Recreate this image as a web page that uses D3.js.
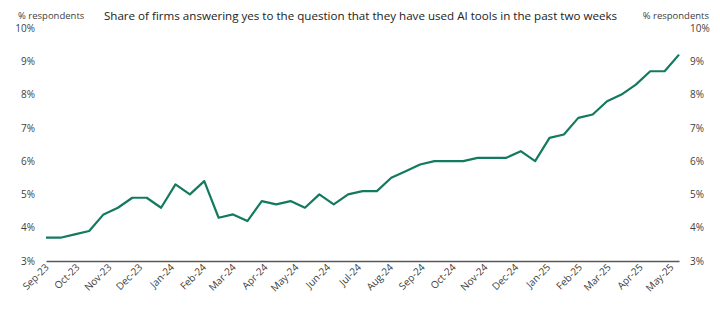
<!DOCTYPE html>
<html><head><meta charset="utf-8">
<script src="https://cdn.jsdelivr.net/npm/d3@7"></script>
<style>
html,body{margin:0;padding:0;background:#fff;}
text{font-family:"Open Sans","Noto Sans",sans-serif;}
</style></head>
<body><svg id="c" width="720" height="330"></svg>
<script>
const startDate = "2023-09-01";
const stepDays = 14;
const values = [3.7,3.7,3.8,3.9,4.4,4.6,4.9,4.9,4.6,5.3,5.0,5.4,4.3,4.4,4.2,4.8,4.7,4.8,4.6,5.0,4.7,5.0,5.1,5.1,5.5,5.7,5.9,6.0,6.0,6.0,6.1,6.1,6.1,6.3,6.0,6.7,6.8,7.3,7.4,7.8,8.0,8.3,8.7,8.7,9.2];
const yTicks = [3,4,5,6,7,8,9,10];
const title = "Share of firms answering yes to the question that they have used AI tools in the past two weeks";
const axisUnit = "% respondents";

const parse = d3.timeParse("%Y-%m-%d");
const t0 = parse(startDate);
const data = values.map((v,i)=>({date:d3.timeDay.offset(t0,i*stepDays), value:v}));

const svg = d3.select("#c");
const m = {left:46, right:41, top:28, bottom:69};
const W = 720, H = 330;
const x = d3.scaleTime().domain(d3.extent(data,d=>d.date)).range([m.left, W-m.right]);
const y = d3.scaleLinear().domain([3,10]).range([H-m.bottom, m.top]);

const textCol = "#404040";

// left axis
const yl = svg.append("g").attr("transform",`translate(${m.left},0)`)
  .call(d3.axisLeft(y).tickValues(yTicks).tickSize(0).tickPadding(11).tickFormat(d=>d+"%"));
yl.select(".domain").remove();
yl.selectAll("text").attr("font-size",10).attr("fill",textCol).attr("font-family","'Open Sans',sans-serif");

// right axis
const yr = svg.append("g").attr("transform",`translate(${W-m.right},0)`)
  .call(d3.axisRight(y).tickValues(yTicks).tickSize(0).tickPadding(11).tickFormat(d=>d+"%"));
yr.select(".domain").remove();
yr.selectAll("text").attr("font-size",10).attr("fill",textCol).attr("font-family","'Open Sans',sans-serif");

// x axis
const months = d3.timeMonth.range(d3.timeMonth.ceil(x.domain()[0]), x.domain()[1]);
const xa = svg.append("g").attr("transform",`translate(0,${y(3)})`)
  .call(d3.axisBottom(x).tickValues(months).tickSize(0).tickFormat(d3.timeFormat("%b-%y")));
xa.select(".domain").attr("stroke","#595959").attr("stroke-width",1.5);
xa.selectAll("text").attr("font-size",10).attr("fill",textCol).attr("font-family","'Open Sans',sans-serif")
  .attr("text-anchor","end").attr("dy",0).attr("y",0)
  .attr("transform","translate(3,7) rotate(-45)");

// line
svg.append("path").datum(data)
  .attr("fill","none").attr("stroke","#137a5f").attr("stroke-width",2.2)
  .attr("stroke-linejoin","round")
  .attr("d", d3.line().x(d=>x(d.date)).y(d=>y(d.value)));

// unit labels
svg.append("text").attr("x",18).attr("y",19).attr("font-size",9.5).attr("fill",textCol).text(axisUnit);
svg.append("text").attr("x",709).attr("y",19).attr("font-size",9.5).attr("fill",textCol).attr("text-anchor","end").text(axisUnit);

// title
svg.append("text").attr("x",360.5).attr("y",20).attr("font-size",11.6).attr("fill","#222").attr("text-anchor","middle").text(title);
</script></body></html>
